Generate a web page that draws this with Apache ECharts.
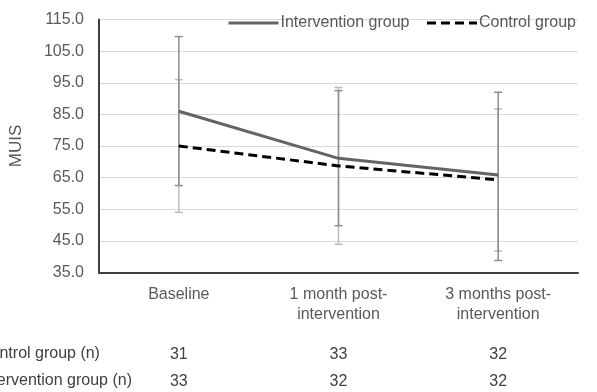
<!DOCTYPE html>
<html>
<head>
<meta charset="utf-8">
<script src="https://cdn.jsdelivr.net/npm/echarts@6/dist/echarts.min.js"></script>
<style>html,body{margin:0;padding:0;background:#fff}#c{width:597px;height:392px}</style>
</head>
<body>
<div id="c"></div>
<script>
var categories = ['Baseline', '1 month post-\nintervention', '3 months post-\nintervention'];
var yTicks = { min: 35, max: 115, interval: 10 };
var interventionMean = [86.0, 71.1, 65.8];
var interventionUpper = [109.6, 92.5, 92.0];
var interventionLower = [62.5, 49.8, 38.8];
var controlMean = [75.0, 68.7, 64.3];
var controlUpper = [96.0, 93.5, 86.7];
var controlLower = [54.0, 43.9, 41.8];
var controlN = ['31', '33', '32'];
var interventionN = ['33', '32', '32'];
var rowLabels = ['Control group (n)', 'Intervention group (n)'];
var seriesNames = ['Intervention group', 'Control group'];

var FONT = 'Liberation Sans, Arial, sans-serif';
var FS = 16;
var chart = echarts.init(document.getElementById('c'));

function errData(low, high) {
  return categories.map(function (c, i) { return [i, low[i], high[i]]; });
}
function errRender(color) {
  return function (params, api) {
    var x = api.value(0);
    var lo = api.coord([x, api.value(1)]);
    var hi = api.coord([x, api.value(2)]);
    var cw = 4;
    var st = { stroke: color, lineWidth: 1.5 };
    return {
      type: 'group',
      children: [
        { type: 'line', shape: { x1: lo[0], y1: lo[1], x2: hi[0], y2: hi[1] }, style: st },
        { type: 'line', shape: { x1: hi[0] - cw, y1: hi[1], x2: hi[0] + cw, y2: hi[1] }, style: st },
        { type: 'line', shape: { x1: lo[0] - cw, y1: lo[1], x2: lo[0] + cw, y2: lo[1] }, style: st }
      ]
    };
  };
}

var countAxis = function (data, offset) {
  return {
    type: 'category', data: data, position: 'bottom', offset: offset,
    axisLine: { show: false }, axisTick: { show: false }, splitLine: { show: false },
    axisLabel: { color: '#404040', fontSize: FS, fontFamily: FONT, margin: 0 }
  };
};

chart.setOption({
  animation: false,
  backgroundColor: '#fff',
  grid: { left: 98, right: 19, top: 19.5, bottom: 119.5 },
  legend: {
    data: seriesNames,
    left: 222, top: 10,
    itemWidth: 50, itemHeight: 16, itemGap: 16,
    itemStyle: { opacity: 0 },
    lineStyle: { width: 3 },
    textStyle: { color: '#595959', fontSize: FS, fontFamily: FONT, padding: [0, 0, 0, -3] }
  },
  xAxis: [
    {
      type: 'category', data: categories, boundaryGap: true,
      axisLine: { lineStyle: { color: '#404040', width: 2 } },
      axisTick: { show: false },
      axisLabel: { color: '#595959', fontSize: FS, fontFamily: FONT, margin: 12, lineHeight: 20, interval: 0 }
    },
    countAxis(controlN, 74),
    countAxis(interventionN, 101)
  ],
  yAxis: {
    type: 'value', min: yTicks.min, max: yTicks.max, interval: yTicks.interval,
    name: 'MUIS', nameLocation: 'middle', nameRotate: 90, nameGap: 74,
    nameTextStyle: { color: '#595959', fontSize: 17, fontFamily: FONT },
    axisLine: { show: true, lineStyle: { color: '#404040', width: 2 } },
    axisTick: { show: false },
    splitLine: { lineStyle: { color: '#d9d9d9', width: 1 } },
    axisLabel: {
      color: '#595959', fontSize: FS, fontFamily: FONT, margin: 15,
      formatter: function (v) { return v.toFixed(1); }
    }
  },
  graphic: rowLabels.map(function (t, i) {
    return {
      type: 'text', left: -21, top: 346 + i * 27,
      style: { text: t, fill: '#404040', font: FS + 'px ' + FONT }
    };
  }),
  series: [
    {
      type: 'custom', name: 'ctrlErr', renderItem: errRender('#bdbdbd'),
      data: errData(controlLower, controlUpper), z: 1, silent: true
    },
    {
      type: 'custom', name: 'intErr', renderItem: errRender('#8c8c8c'),
      data: errData(interventionLower, interventionUpper), z: 2, silent: true
    },
    {
      type: 'line', name: seriesNames[0], data: interventionMean, symbol: 'none', z: 4,
      lineStyle: { color: '#646464', width: 3 }, itemStyle: { color: '#646464' }
    },
    {
      type: 'line', name: seriesNames[1], data: controlMean, symbol: 'none', z: 5,
      lineStyle: { color: '#000', width: 3, type: [9, 5] }, itemStyle: { color: '#000' }
    }
  ]
});
</script>
</body>
</html>
